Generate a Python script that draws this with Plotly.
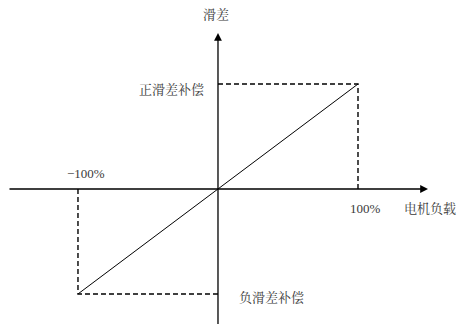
import plotly.graph_objects as go

# 电机负载 (%) vs 滑差 (%)
load = [-100, 0, 100]
slip = [-100, 0, 100]

label_pos = "正滑差补偿"
label_neg = "负滑差补偿"
x_title = "电机负载"
y_title = "滑差"
tick_pos = "100%"
tick_neg = "−100%"

_TEXT = "#3a3a3a"
_FONT = "Liberation Serif, Noto Serif CJK SC, Noto Sans CJK SC, serif"

fig = go.Figure()

# 补偿线
fig.add_trace(go.Scatter(
    x=load, y=slip, mode="lines",
    line=dict(color="black", width=1), showlegend=False, hoverinfo="skip",
))

# 虚线辅助线
for xs, ys in [
    ([0, load[-1], load[-1]], [slip[-1], slip[-1], 0]),
    ([load[0], load[0], 0], [0, slip[0], slip[0]]),
]:
    fig.add_trace(go.Scatter(
        x=xs, y=ys, mode="lines",
        line=dict(color="black", width=1.4, dash="5px,3px"),
        showlegend=False, hoverinfo="skip",
    ))

# 坐标轴 (箭头)
for (x0, y0, x1, y1) in [(-150, 0, 150, 0), (0, -130, 0, 148.5)]:
    fig.add_annotation(
        x=x1, y=y1, ax=x0, ay=y0, xref="x", yref="y", axref="x", ayref="y",
        text="", showarrow=True, arrowhead=2, arrowsize=1.2, arrowwidth=1.3,
        arrowcolor="black",
    )

texts = [
    (y_title, -1.4, 166, "center", 13),
    (label_pos, -8.5, 95, "right", 13),
    (tick_neg, -94.3, 15, "center", 13),
    (tick_pos, 105.7, -19, "center", 13),
    (x_title, 151.4, -19, "center", 13),
    (label_neg, 13.6, -103, "left", 13),
]
for t, x, y, anchor, size in texts:
    fig.add_annotation(
        x=x, y=y, text=t, showarrow=False, xanchor=anchor, yanchor="middle",
        font=dict(family=_FONT, size=size, color=_TEXT),
    )

fig.update_layout(
    width=463, height=328,
    margin=dict(l=0, r=0, t=0, b=0),
    paper_bgcolor="white", plot_bgcolor="white",
    xaxis=dict(range=[-155.7, 175], visible=False, fixedrange=True),
    yaxis=dict(range=[-132.4, 180], visible=False, fixedrange=True),
)

fig.write_html(
    "out.html",
    config={"displayModeBar": False},
    post_script="document.body.style.margin='0';document.body.style.overflow='hidden';",
)
